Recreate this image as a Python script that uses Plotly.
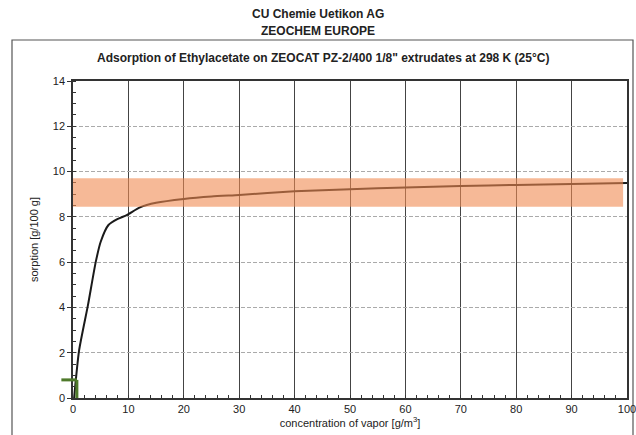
import plotly.graph_objects as go

# ---- data ----
conc = [0.2, 1.1, 2.7, 4.1, 5.0, 6.4, 8.0, 9.7, 12.1, 15, 20, 25, 30, 40, 50, 60, 70, 80, 90, 100]
sorption = [0.0, 2.1, 4.1, 6.0, 6.9, 7.64, 7.9, 8.08, 8.42, 8.62, 8.79, 8.9, 8.97, 9.13, 9.22, 9.3, 9.36, 9.41, 9.45, 9.5]
band_x = [0, 99.3]
band_y = [8.45, 9.7]
marker_x = [-2.1, 0.7, 0.7]
marker_y = [0.8, 0.8, 0.0]
x_ticks = [0, 10, 20, 30, 40, 50, 60, 70, 80, 90, 100]
y_ticks = [0, 2, 4, 6, 8, 10, 12, 14]

XR = [0, 100]
YR = [0, 14]

W, H = 636, 435
ML, MR, MT, MB = 73, 9, 81, 37
PW, PH = W - ML - MR, H - MT - MB

def px(v):
    return (v - XR[0]) / (XR[1] - XR[0])

def py(v):
    return (v - YR[0]) / (YR[1] - YR[0])

def pix_x(p):
    return (p - ML) / PW

def pix_y(p):
    return (H - MB - p) / PH

fig = go.Figure()
fig.add_trace(go.Scatter(x=conc, y=sorption, mode="lines",
                         line=dict(color="#1a1a1a", width=2, shape="spline", smoothing=0.6),
                         showlegend=False))

shapes = []
shapes.append(dict(type="rect", xref="x", yref="y", x0=band_x[0], x1=band_x[1],
                   y0=band_y[0], y1=band_y[1], fillcolor="rgb(240,138,82)",
                   opacity=0.6, line=dict(width=0), layer="above"))
for i in range(len(marker_x) - 1):
    shapes.append(dict(type="line", xref="paper", yref="paper",
                       x0=px(marker_x[i]), x1=px(marker_x[i + 1]),
                       y0=py(marker_y[i]), y1=py(marker_y[i + 1]),
                       line=dict(color="#4f7a2b", width=3), layer="above"))
shapes.append(dict(type="rect", xref="paper", yref="paper", x0=pix_x(12), x1=pix_x(633),
                   y0=pix_y(460), y1=pix_y(40), line=dict(color="#555555", width=1.2),
                   fillcolor="rgba(0,0,0,0)", layer="below"))

def label(text, xp, yp):
    return dict(text=text, xref="paper", yref="paper", x=pix_x(xp), y=pix_y(yp),
                xanchor="center", yanchor="middle", showarrow=False,
                font=dict(size=12, color="#222"))

font = "Liberation Sans, Arial, sans-serif"
fig.update_layout(
    width=W, height=H,
    margin=dict(l=ML, r=MR, t=MT, b=MB, autoexpand=False),
    paper_bgcolor="white", plot_bgcolor="white",
    font=dict(family=font, color="#222222", size=11),
    shapes=shapes,
    annotations=[
        label("<b>CU Chemie Uetikon AG</b>", 318, 14),
        label("<b>ZEOCHEM EUROPE</b>", 318, 31),
        label("<b>Adsorption of Ethylacetate on ZEOCAT PZ-2/400 1/8\" extrudates at 298 K (25°C)</b>", 323, 58),
    ],
    xaxis=dict(range=XR, tickvals=x_ticks, showgrid=True, gridcolor="#444444", gridwidth=1,
               showline=True, linecolor="#333333", linewidth=1.5, mirror=True, automargin=True,
               ticks="inside", ticklen=3, tickcolor="#333", zeroline=False,
               tickfont=dict(size=11), ticklabeloverflow="allow",
               minor=dict(dtick=2, ticks="inside", ticklen=3, tickcolor="#333", showgrid=False),
               title=dict(text="concentration of vapor [g/m<sup>3</sup>]", standoff=5,
                          font=dict(size=11))),
    yaxis=dict(range=YR, tickvals=y_ticks, showgrid=True, gridcolor="#aaaaaa", gridwidth=1,
               griddash="4px,2px",
               showline=True, linecolor="#333333", linewidth=1.5, mirror=True, automargin=False,
               ticks="outside", ticklen=4, tickcolor="#333", zeroline=False,
               tickfont=dict(size=11),
               minor=dict(dtick=0.5, ticks="inside", ticklen=3, tickcolor="#333", showgrid=False),
               title=dict(text="sorption [g/100 g]", standoff=12, font=dict(size=11))),
)
fig.write_html("out.html", config={"displayModeBar": False},
               post_script="document.body.style.margin='0';")
